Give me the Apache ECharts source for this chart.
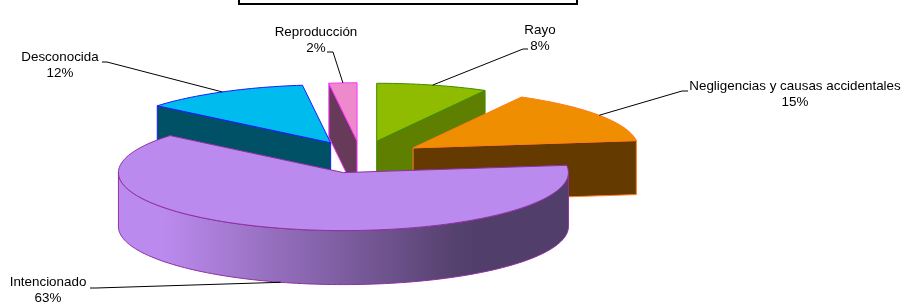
<!DOCTYPE html>
<html>
<head>
<meta charset="utf-8">
<script src="https://cdn.jsdelivr.net/npm/echarts@6/dist/echarts.min.js"></script>
<style>
html, body { margin: 0; background: #fff; }
#main { width: 905px; height: 305px; }
</style>
</head>
<body>
<div id="main"></div>
<script>
// datos
var causas = ['Rayo', 'Negligencias y causas accidentales', 'Intencionado', 'Desconocida', 'Reproducción'];
var porcentajes = [8, 15, 63, 12, 2];

// estilos
var colorTapa = ['#8fbc00', '#ee8e00', '#bb8aee', '#00bcee', '#ee8acc'];
var colorLado = ['#5f7f00', '#643a00', '#4f3c66', '#005066', '#663a58'];
var colorBorde = ['#3c8c00', '#ff7a1a', '#8f2fa0', '#1a1aff', '#ff33ff'];

// tarta 3D "a mano"
var geo = { cx: 361, cy: 157, rx: 225, ry: 58, alto: 54, separa: 0.28 };

// posicion de las etiquetas y sus lineas guia
var etiq = [
  { at: [540, 38], end: [528, 49], dx: -5 },
  { at: [795, 94], end: [688, 91], dx: -6 },
  { at: [48, 290], end: [90, 288], dx: 6 },
  { at: [60, 65], end: [102, 62], dx: 5 },
  { at: [316, 40], end: [327, 52], dx: 6 }
];

var total = porcentajes.reduce(function (a, b) { return a + b; }, 0);
var inicio = [];
var acum = 0;
porcentajes.forEach(function (v) { inicio.push(acum / total * 360); acum += v; });

function rad(d) { return d * Math.PI / 180; }
function pto(c, a, bajo) {
  return [c[0] + geo.rx * Math.sin(rad(a)), c[1] - geo.ry * Math.cos(rad(a)) + (bajo ? geo.alto : 0)];
}
function hex2rgb(h) {
  return [parseInt(h.substr(1, 2), 16), parseInt(h.substr(3, 2), 16), parseInt(h.substr(5, 2), 16)];
}
function mezcla(h1, h2, t) {
  var a = hex2rgb(h1), b = hex2rgb(h2);
  return 'rgb(' + a.map(function (x, i) { return Math.round(x + (b[i] - x) * t); }).join(',') + ')';
}

// orden de pintado: de atras hacia delante
var orden = porcentajes.map(function (v, i) {
  var m = inicio[i] + v / total * 180;
  return { i: i, c: Math.cos(rad(m)) };
}).sort(function (a, b) { return b.c - a.c; });
var rango = [];
orden.forEach(function (o, k) { rango[o.i] = k; });

function renderItem(params, api) {
  var i = params.dataIndex;
  var v = api.value(0);
  var a0 = inicio[i], a1 = a0 + v / total * 360, m = (a0 + a1) / 2;
  var c = [geo.cx + geo.separa * geo.rx * Math.sin(rad(m)), geo.cy - geo.separa * geo.ry * Math.cos(rad(m))];
  var cb = [c[0], c[1] + geo.alto];
  var z = rango[i] * 10;
  var hijos = [];

  // paredes radiales visibles
  if (Math.sin(rad(a0)) < -0.001) {
    hijos.push({ type: 'polygon', z2: z + 1,
      shape: { points: [c, pto(c, a0), pto(c, a0, true), cb] },
      style: { fill: colorLado[i], stroke: colorBorde[i], lineWidth: 1 } });
  }
  if (Math.sin(rad(a1)) > 0.001) {
    hijos.push({ type: 'polygon', z2: z + 1,
      shape: { points: [c, pto(c, a1), pto(c, a1, true), cb] },
      style: { fill: colorLado[i], stroke: colorBorde[i], lineWidth: 1 } });
  }

  // pared curva delantera, sombreada con degradado horizontal
  var f0 = Math.max(a0, 90), f1 = Math.min(a1, 270);
  if (f1 > f0) {
    var n = Math.ceil((f1 - f0) / 1.5);
    var arriba = [], abajo = [];
    for (var k = 0; k <= n; k++) {
      var a = f0 + (f1 - f0) * k / n;
      arriba.push(pto(c, a));
      abajo.push(pto(c, a, true));
    }
    var xs = arriba.map(function (p) { return p[0]; });
    var xmin = Math.min.apply(null, xs), xmax = Math.max.apply(null, xs);
    var paradas = [];
    for (var s = 0; s <= 20; s++) {
      var x = xmin + (xmax - xmin) * s / 20;
      var u = (c[0] - x) / geo.rx;
      var t = 1 - Math.min(1, Math.max(0, (u + 0.54) / 1.33));
      paradas.push({ offset: s / 20, color: mezcla(colorTapa[i], colorLado[i], t * 0.97) });
    }
    hijos.push({ type: 'polygon', z2: z + 2,
      shape: { points: arriba.concat(abajo.slice().reverse()) },
      style: {
        fill: new echarts.graphic.LinearGradient(0, 0, 1, 0, paradas),
        stroke: colorBorde[i], lineWidth: 1
      } });
  }

  // tapa
  var tapa = [c];
  var nt = Math.max(2, Math.ceil((a1 - a0) / 1.5));
  for (var j = 0; j <= nt; j++) tapa.push(pto(c, a0 + (a1 - a0) * j / nt));
  hijos.push({ type: 'polygon', z2: z + 4,
    shape: { points: tapa },
    style: { fill: colorTapa[i], stroke: colorBorde[i], lineWidth: 1 } });

  // etiqueta y linea guia
  var ancla = pto(c, m, Math.cos(rad(m)) < 0);
  var e = etiq[i];
  hijos.push({ type: 'polyline', z2: 200,
    shape: { points: [ancla, [e.end[0] + e.dx, e.end[1]], e.end] },
    style: { stroke: '#000', lineWidth: 1, fill: null } });
  hijos.push({ type: 'text', z2: 201,
    style: { text: causas[i] + '\n' + v + '%', x: e.at[0], y: e.at[1],
      align: 'center', verticalAlign: 'middle', lineHeight: 16,
      font: '13.4px "Liberation Sans", Arial, sans-serif', fill: '#000' } });

  return { type: 'group', children: hijos };
}

var chart = echarts.init(document.getElementById('main'));
var option = {
  animation: false,
  graphic: [
    { type: 'rect', shape: { x: 239, y: -20, width: 338, height: 24 },
      style: { fill: '#fff', stroke: '#000', lineWidth: 2 } }
  ],
  series: [
    {
      type: 'custom',
      coordinateSystem: 'none',
      silent: true,
      renderItem: renderItem,
      data: porcentajes.map(function (v, i) { return [v, i]; })
    }
  ]
};
chart.setOption(option);
</script>
</body>
</html>
